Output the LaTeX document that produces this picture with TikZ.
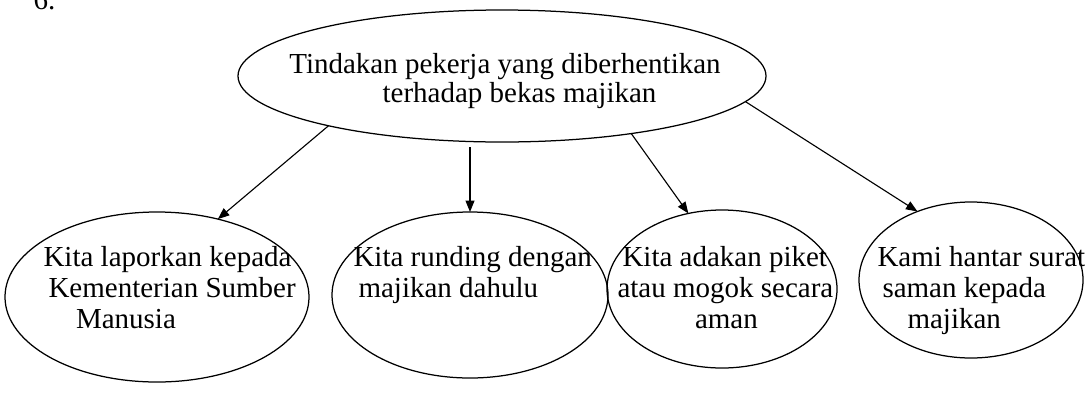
\documentclass[tikz,border=0pt]{standalone}
\usepackage{fontspec}
\setmainfont{Liberation Serif}
\usetikzlibrary{arrows.meta,shapes.geometric}

\begin{document}
\begin{tikzpicture}[x=0.4pt,y=-0.4pt,
  oval/.style={draw,ellipse,inner sep=0pt,outer sep=0pt,line width=0.5pt},
  words/.style={inner sep=0pt,anchor=base west,align=left,font=\fontsize{11.6}{12.4}\selectfont},
  arr/.style={-{Triangle[length=4.6pt,width=3.6pt]},line width=0.45pt}]
\useasboundingbox (0,0) rectangle (1085,394);
\node[words] (num) at (33,9) {6.};
\node[oval,minimum width=211.2pt,minimum height=52.8pt] (top) at (502,76) {};
\node[oval,minimum width=121.6pt,minimum height=68pt] (lapor) at (157,297) {};
\node[oval,minimum width=110.4pt,minimum height=66.4pt] (runding) at (470,295) {};
\node[oval,minimum width=92pt,minimum height=63.2pt] (piket) at (722,289) {};
\node[oval,minimum width=89.6pt,minimum height=62.4pt] (saman) at (971,280) {};
% base = last line
\node[words,anchor=base,align=center,font=\fontsize{11.6}{11.6}\selectfont] (toptext) at (505,102)
  {Tindakan pekerja yang diberhentikan\\\hspace*{1em}terhadap bekas majikan};
\node[words] (laportext) at (43,328) {Kita laporkan kepada\\\hspace*{2pt}Kementerian Sumber\\\hspace*{13pt}Manusia};
\node[words] (rundingtext) at (353,297) {Kita runding dengan\\\hspace*{2pt}majikan dahulu};
\node[words] (pikettext) at (617,328) {\hspace*{2pt}Kita adakan piket\\atau mogok secara\\\hspace*{31pt}aman};
\node[words] (samantext) at (877,328) {Kami hantar surat\\\hspace*{2pt}saman kepada\\\hspace*{12pt}majikan};
\draw[arr] (top.196) -- (lapor.52);
\draw[arr,shorten <=2pt] (runding.north |- top.south) -- (runding.north);
\draw[arr] (top.336) -- (piket.114);
\draw[arr] (top.354) -- (saman.128);
\end{tikzpicture}
\end{document}
